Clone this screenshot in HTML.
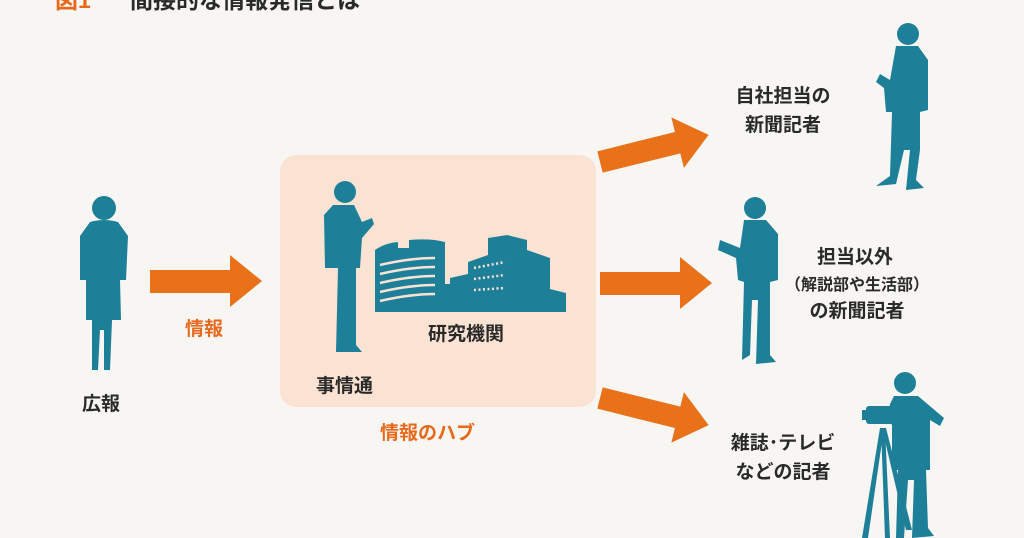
<!DOCTYPE html>
<html><head><meta charset="utf-8"><style>
html,body{margin:0;padding:0;background:#f8f6f2;}
svg{display:block}
text{font-family:"Liberation Sans","Noto Sans CJK JP",sans-serif;font-weight:bold;}
</style></head><body>
<svg width="1024" height="538" viewBox="0 0 1024 538" xmlns="http://www.w3.org/2000/svg">
<rect width="1024" height="538" fill="#f8f6f2"/>
<text x="55" y="8" font-size="23" fill="#e8691c">図1</text>
<text x="130" y="8" font-size="23" fill="#2a2a2a">間接的な情報発信とは</text>

<rect x="280" y="155" width="316" height="252" rx="16" fill="#fbe3d3"/>

<g fill="#e8711a">
<polygon points="150,270 230,270 230,255 262,281 230,307 230,293 150,293"/>
<polygon points="600,272 680,272 680,257 712,283 680,309 680,295 600,295"/>
<g transform="translate(600,162) rotate(-14)"><polygon points="0,-11 80,-11 80,-26 112,0 80,26 80,11 0,11"/></g>
<g transform="translate(600,398) rotate(14)"><polygon points="0,-11 80,-11 80,-26 112,0 80,26 80,11 0,11"/></g>
</g>

<g fill="#1e7f99">
<circle cx="104" cy="208" r="12"/>
<path d="M90 222 Q104 218 118 222 L128 236 L126 280 L120 280 L121 320 L112 320 L110 370 L104 370 L104 330 L100 330 L98 370 L92 370 L92 320 L86 320 L86 280 L80 280 L80 236 Z"/>
<circle cx="345" cy="192" r="11"/>
<path d="M333 205 L354 205 L362 222 L372 218 L374 224 L362 238 L360 268 L356 268 L356 345 L362 352 L336 352 L338 268 L325 268 L324 215 Z"/>
<path d="M375 312 L375 250 Q385 243 398 242 L398 248 L409 248 L409 240 Q430 238 445 242 L445 284 L450 284 L450 278 L468 274 L468 262 L488 255 L488 238 L507 235 L527 240 L527 250 L550 258 L550 289 L566 293 L566 312 Z"/>
<circle cx="908" cy="34" r="11"/>
<path d="M896 46 L918 46 L928 60 L928 110 L920 112 L920 150 L916 180 L924 188 L906 190 L910 150 L904 150 L896 184 L876 186 L890 176 L892 112 L886 112 L884 88 L876 82 L880 74 L890 80 Z"/>
<circle cx="755" cy="208" r="11"/>
<path d="M744 220 L766 220 L778 234 L778 280 L770 282 L770 355 L776 362 L756 364 L758 300 L752 300 L750 355 L742 360 L744 282 L738 280 L736 258 L718 250 L720 240 L740 248 Z"/>
<circle cx="905" cy="383" r="11"/>
<path d="M894 396 L918 396 L944 418 L940 426 L930 420 L930 470 L926 470 L928 528 L934 536 L912 538 L914 480 L908 480 L904 538 L896 538 L898 470 L892 470 L892 425 L888 420 L890 404 Z"/>
<rect x="866" y="406" width="30" height="18" rx="3"/>
<rect x="862" y="410" width="8" height="10"/>
<polygon points="880,428 884,428 868,538 862,538"/>
<polygon points="881,428 885,428 890,538 885,538"/>
<polygon points="882,428 886,428 912,530 906,530"/>
</g>
<g stroke="#fbe3d3" stroke-width="2.5" fill="none">
<path d="M380 265 Q410 258 435 258"/><path d="M380 274 Q410 267 435 267"/><path d="M380 283 Q410 276 435 276"/><path d="M380 292 Q410 285 435 285"/><path d="M380 301 Q410 294 435 294"/>
</g>
<g stroke="#fbe3d3" stroke-width="2.5" stroke-dasharray="2,2.5">
<line x1="474" y1="268" x2="505" y2="262"/><line x1="474" y1="279" x2="505" y2="275"/><line x1="474" y1="290" x2="505" y2="288"/>
</g>

<g font-size="19" fill="#2a2a2a">
<text x="82" y="410">広報</text>
<text x="316" y="392">事情通</text>
<text x="428" y="340">研究機関</text>
<text x="783" y="102" text-anchor="middle">自社担当の</text>
<text x="783" y="131" text-anchor="middle">新聞記者</text>
<text x="855" y="263" text-anchor="middle">担当以外</text>
<text x="857" y="290" text-anchor="middle" font-size="16">（解説部や生活部）</text>
<text x="857" y="317" text-anchor="middle">の新聞記者</text>
<text x="783" y="449" text-anchor="middle">雑誌･テレビ</text>
<text x="783" y="478" text-anchor="middle">などの記者</text>
</g>
<g font-size="19" fill="#e8691c">
<text x="185" y="335">情報</text>
<text x="380" y="439">情報のハブ</text>
</g>
</svg>
</body></html>
